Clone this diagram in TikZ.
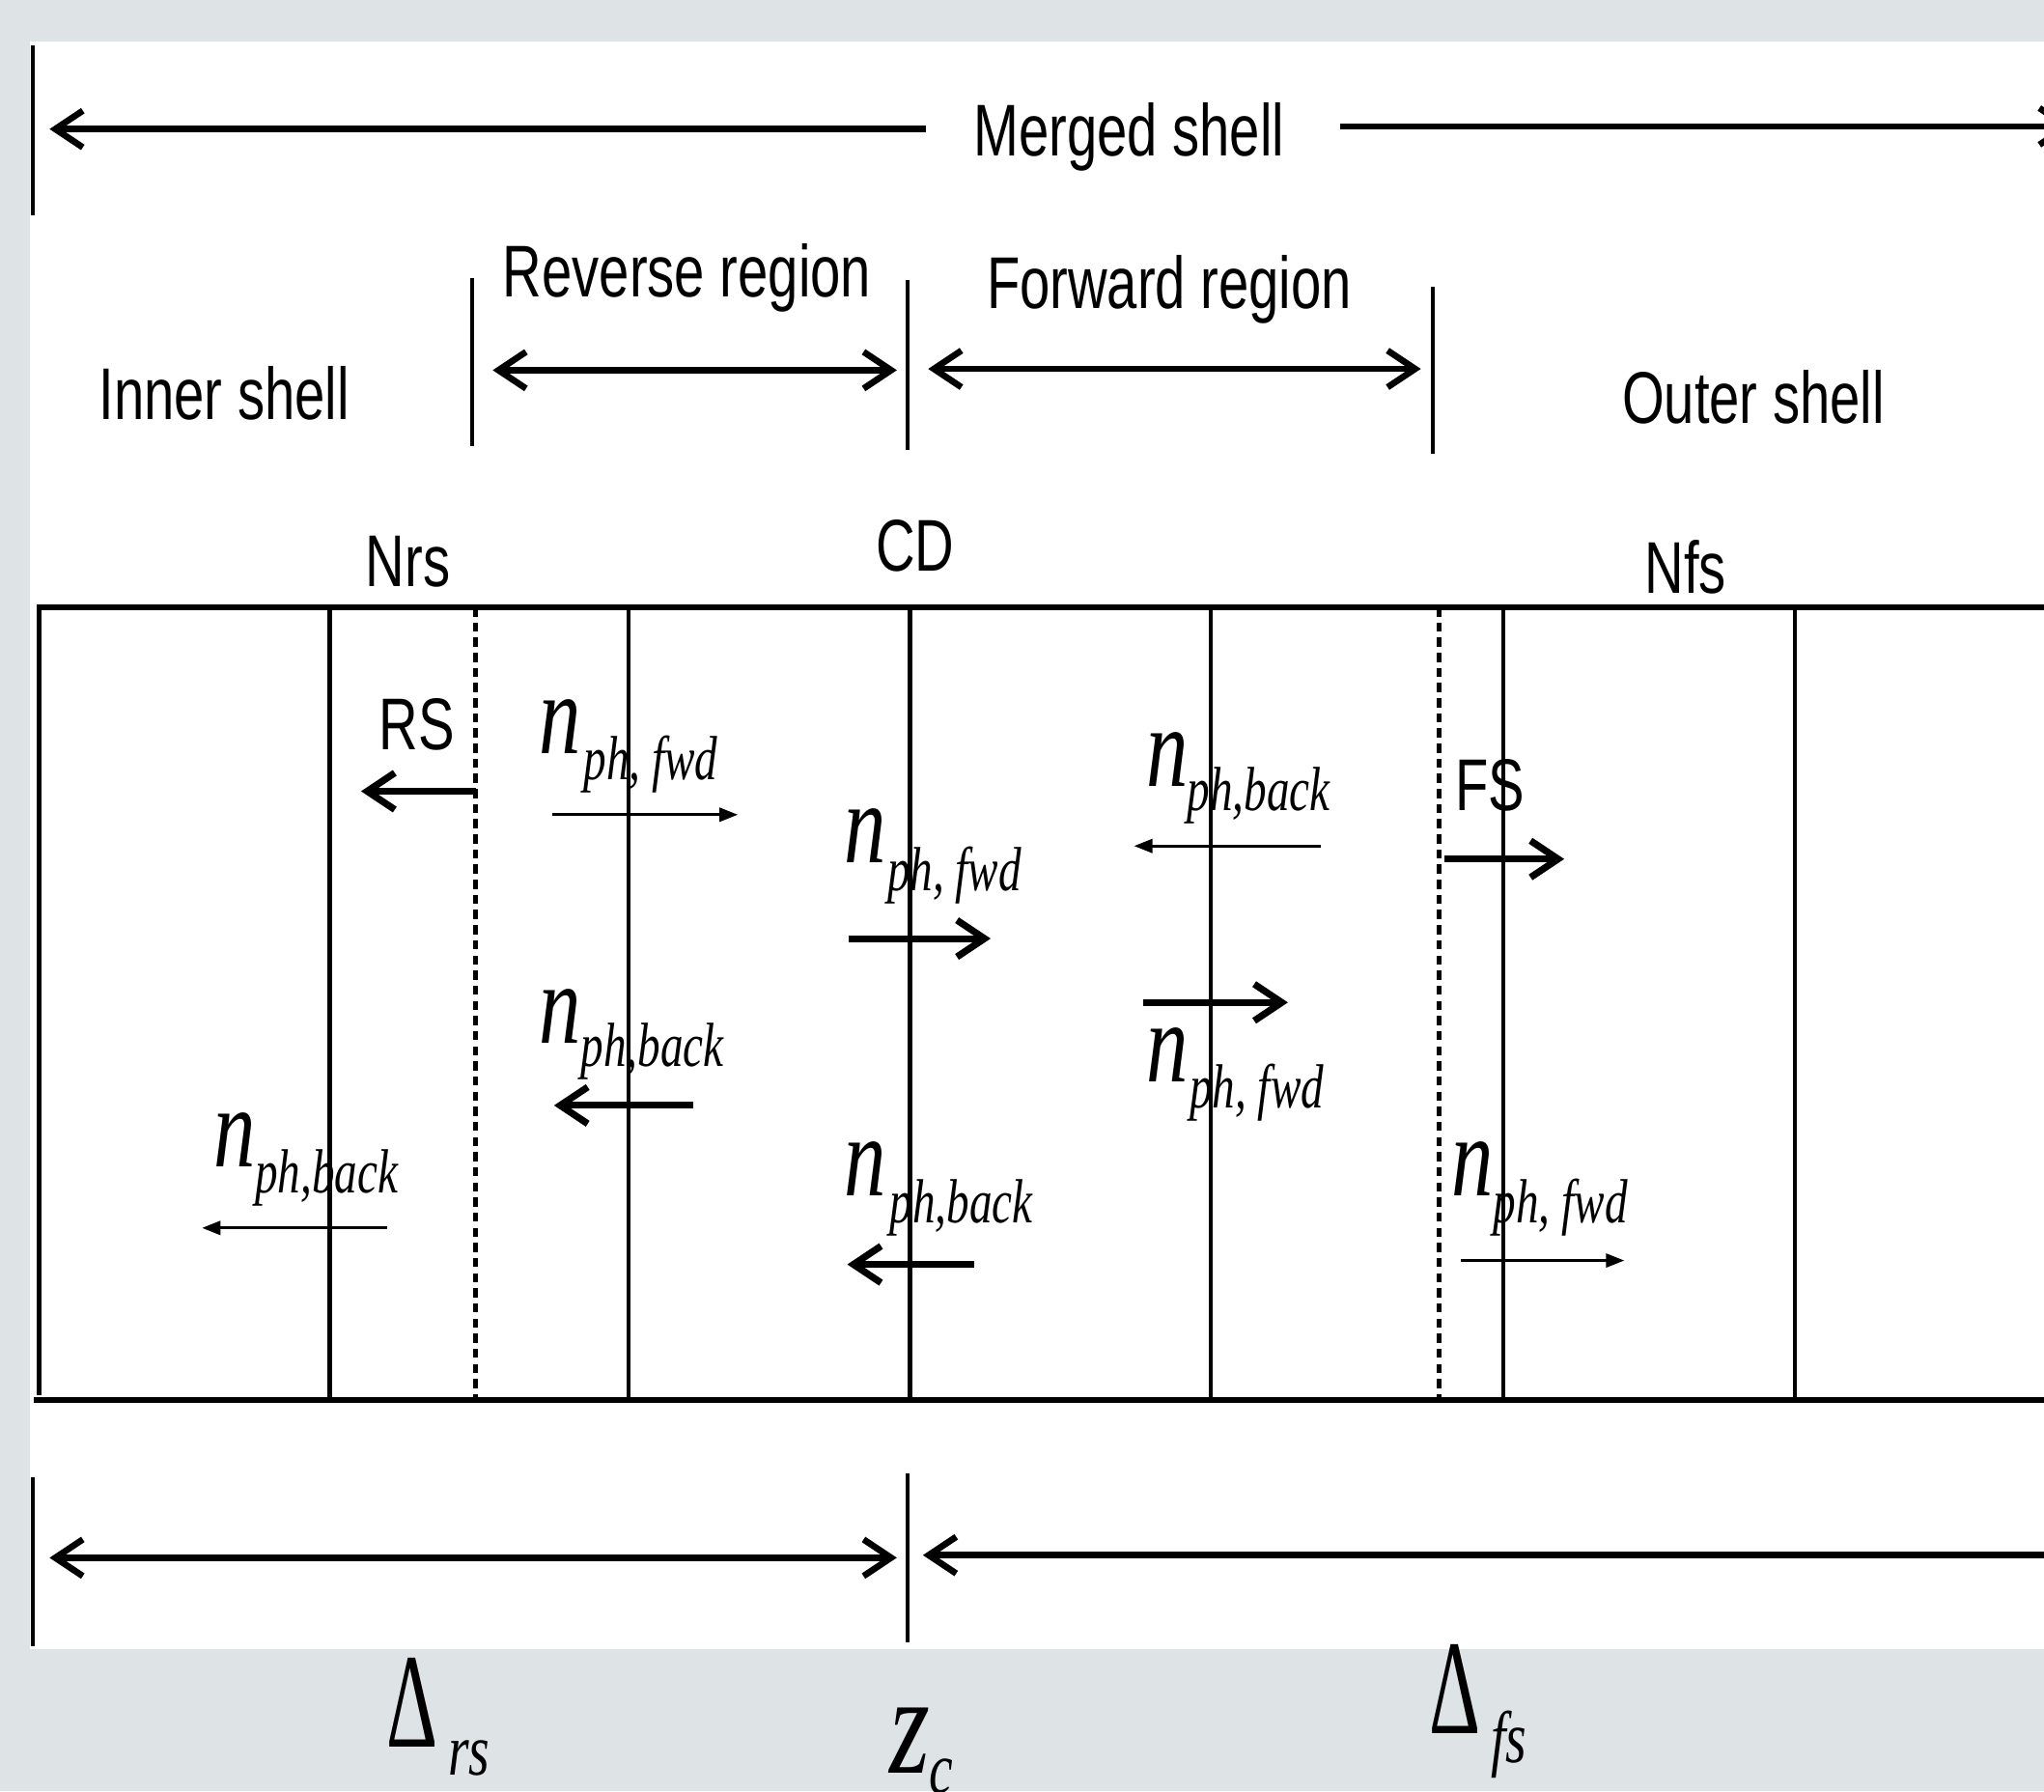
\documentclass[tikz,border=0pt]{standalone}
\usepackage{fontspec}
\usetikzlibrary{arrows.meta}
\newfontfamily\lsn[FakeStretch=0.74]{Liberation Sans}
\newfontfamily\tnr[FakeStretch=0.73]{Liberation Serif}
\definecolor{bg}{HTML}{DEE4E6}
\begin{document}
\begin{tikzpicture}[x=0.01cm,y=-0.01cm,
  lbl/.style={font=\lsn\fontsize{16}{18}\selectfont, inner sep=0pt, anchor=base},
  nsym/.style={font=\tnr\itshape\fontsize{25}{28}\selectfont, inner sep=0pt, anchor=base west},
  nsub/.style={font=\tnr\itshape\fontsize{13.6}{15}\selectfont, inner sep=0pt, anchor=base west},
  dsym/.style={font=\tnr\fontsize{28}{30}\selectfont, inner sep=0pt, anchor=base west},
  dsub/.style={font=\tnr\itshape\fontsize{16}{18}\selectfont, inner sep=0pt, anchor=base west},
  bar/.style={line width=0.9pt},
  sep/.style={line width=0.9pt},
  dotsep/.style={line width=1.1pt, dash pattern=on 2pt off 1.3pt},
  frame/.style={line width=1.2pt},
  dimarr/.style={line width=1.4pt, {Straight Barb[length=6pt,width=8pt]}-{Straight Barb[length=6pt,width=8pt]}},
  leftarr/.style={line width=1.4pt, {Straight Barb[length=6pt,width=8pt]}-},
  bigarr/.style={line width=1.5pt, -{Straight Barb[length=6pt,width=8pt]}},
  thinarr/.style={line width=0.6pt, -{Triangle[length=4pt,width=3pt]}}
]
\useasboundingbox (0,0) rectangle (1568,1374);
\fill[bg] (0,0) rectangle (1568,1374);
\fill[white] (23,32) rectangle (1568,1265);

% ---- merged shell ----
\coordinate (msL) at (38,99);
\coordinate (msLe) at (710,99);
\coordinate (msR) at (1028,97);
\coordinate (msRe) at (1590,97);
\coordinate (msbT) at (25,35);
\coordinate (msbB) at (25,165);
\draw[bar] (msbT) -- (msbB);
\draw[bigarr, line width=1.4pt] (msLe) -- (msL);
\draw[bigarr, line width=1.4pt] (msR) -- (msRe);
\node[lbl] (merged) at (866,120) {Merged shell};

% ---- regions ----
\coordinate (b1T) at (362,213); \coordinate (b1B) at (362,342);
\coordinate (b2T) at (696,215); \coordinate (b2B) at (696,345);
\coordinate (b3T) at (1099,220); \coordinate (b3B) at (1099,348);
\draw[bar] (b1T) -- (b1B);
\draw[bar] (b2T) -- (b2B);
\draw[bar] (b3T) -- (b3B);
\coordinate (rrL) at (378,284); \coordinate (rrR) at (688,284);
\coordinate (frL) at (712,283); \coordinate (frR) at (1090,283);
\draw[dimarr] (rrL) -- (rrR);
\draw[dimarr] (frL) -- (frR);
\node[lbl] (rev) at (527,228) {Reverse region};
\node[lbl] (fwdr) at (897,237) {Forward region};
\node[lbl] (inner) at (172,322) {Inner shell};
\node[lbl] (outer) at (1345,325) {Outer shell};

\node[lbl] (nrs) at (313,450) {Nrs};
\node[lbl] (cd) at (702,438) {CD};
\node[lbl] (nfs) at (1293,455) {Nfs};

% ---- main frame ----
\coordinate (ftL) at (28,466); \coordinate (ftR) at (1568,466);
\coordinate (fbL) at (26,1074); \coordinate (fbR) at (1568,1074);
\draw[frame] (ftL) -- (ftR);
\draw[frame, line width=1.4pt] (fbL) -- (fbR);
\coordinate (v0T) at (30,466); \coordinate (v0B) at (30,1070);
\draw[sep] (v0T) -- (v0B);
\foreach \x/\nm in {253/v1, 482/v3, 698/v4, 929/v5, 1153/v7, 1377/v8}{
  \coordinate (\nm T) at (\x,466);
  \coordinate (\nm B) at (\x,1074);
  \draw[sep] (\nm T) -- (\nm B);
}
\coordinate (rsT) at (365,466); \coordinate (rsB) at (365,1074);
\coordinate (fsT) at (1104,466); \coordinate (fsB) at (1104,1074);
\draw[dotsep] (rsT) -- (rsB);
\draw[dotsep] (fsT) -- (fsB);

% ---- shocks ----
\node[lbl] (rs) at (320,575) {RS};
\coordinate (rsa1) at (365,607); \coordinate (rsa2) at (277,607);
\draw[bigarr] (rsa1) -- (rsa2);
\node[lbl] (fs) at (1143,622) {FS};
\coordinate (fsa1) at (1108,659); \coordinate (fsa2) at (1200,659);
\draw[bigarr] (fsa1) -- (fsa2);

% ---- photon densities ----
% A
\node[nsym] (nA) at (413,578) {n};
\node[nsub] (sA) at (447,598) {ph, fwd};
\coordinate (aA1) at (424,625); \coordinate (aA2) at (566,625);
\draw[thinarr] (aA1) -- (aA2);
% B
\node[nsym] (nB) at (647,662) {n};
\node[nsub] (sB) at (680,683) {ph, fwd};
\coordinate (aB1) at (651,720); \coordinate (aB2) at (760,720);
\draw[bigarr] (aB1) -- (aB2);
% C
\node[nsym] (nC) at (413,800) {n};
\node[nsub] (sC) at (445,818) {ph,back};
\coordinate (aC1) at (532,848); \coordinate (aC2) at (425,848);
\draw[bigarr] (aC1) -- (aC2);
% D
\node[nsym] (nD) at (163,895) {n};
\node[nsub] (sD) at (195,915) {ph,back};
\coordinate (aD1) at (297,942); \coordinate (aD2) at (155,942);
\draw[thinarr] (aD1) -- (aD2);
% E
\node[nsym] (nE) at (647,917) {n};
\node[nsub] (sE) at (682,938) {ph,back};
\coordinate (aE1) at (747,970); \coordinate (aE2) at (650,970);
\draw[bigarr] (aE1) -- (aE2);
% F
\node[nsym] (nF) at (879,603) {n};
\node[nsub] (sF) at (910,622) {ph,back};
\coordinate (aF1) at (1013,649); \coordinate (aF2) at (870,649);
\draw[thinarr] (aF1) -- (aF2);
% G
\coordinate (aG1) at (877,769); \coordinate (aG2) at (988,769);
\draw[bigarr] (aG1) -- (aG2);
\node[nsym] (nG) at (879,830) {n};
\node[nsub] (sG) at (912,850) {ph, fwd};
% H
\node[nsym] (nH) at (1113,917) {n};
\node[nsub] (sH) at (1145,938) {ph, fwd};
\coordinate (aH1) at (1121,967); \coordinate (aH2) at (1246,967);
\draw[thinarr] (aH1) -- (aH2);

% ---- bottom dimensions ----
\coordinate (lbT) at (25,1133); \coordinate (lbB) at (25,1263);
\coordinate (mbT) at (696,1130); \coordinate (mbB) at (696,1260);
\draw[bar] (lbT) -- (lbB);
\draw[bar] (mbT) -- (mbB);
\coordinate (d1L) at (38,1195); \coordinate (d1R) at (688,1195);
\draw[dimarr] (d1L) -- (d1R);
\coordinate (d2L) at (708,1193); \coordinate (d2R) at (1572,1193);
\draw[leftarr] (d2L) -- (d2R);

\node[dsym] (drs) at (296,1340) {\scalebox{0.85}[1.05]{Δ}};
\node[dsub] (drss) at (343,1362) {rs};
\node[dsym, font=\tnr\itshape\fontsize{31}{33}\selectfont] (zc) at (682,1360) {z};
\node[dsub] (zcs) at (712,1376) {c};
\node[dsym] (dfs) at (1096,1330) {\scalebox{0.85}[1.05]{Δ}};
\node[dsub] (dfss) at (1143,1352) {fs};
\end{tikzpicture}
\end{document}
